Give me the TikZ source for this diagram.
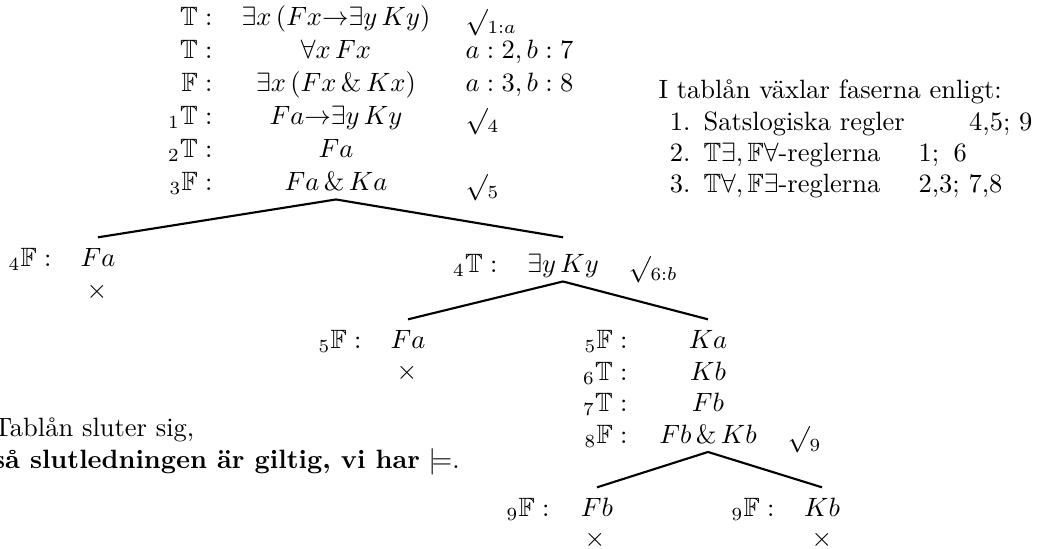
\documentclass[tikz,border=0pt]{standalone}
\usepackage{amssymb}
\usetikzlibrary{positioning}
\newcommand{\chk}[1]{\raisebox{\dimexpr6.4pt-\height\relax}{$\surd$}\raisebox{-3pt}{$\scriptstyle #1$}}

\begin{document}
\begin{tikzpicture}[x=.3775pt,y=-.3775pt,
 fml/.style={anchor=base,inner xsep=0pt,inner ysep=1.5pt,text height=9.5pt,text depth=1.5pt},
 lab/.style={anchor=base east,inner sep=0pt},
 jst/.style={anchor=base west,inner sep=0pt},
 cls/.style={anchor=base,inner sep=0pt},
 txt/.style={anchor=base west,inner sep=0pt},
 num/.style={anchor=base east,inner sep=0pt},
 br/.style={line width=.8pt}]
\useasboundingbox (0,0) rectangle (1046,549);

\node[fml] (t1) at (336,26) {$\exists x\,(Fx{\rightarrow}\exists y\,Ky)$};
\node[fml] (t2) at (336,59) {$\forall x\,Fx$};
\node[fml] (t3) at (336,92) {$\exists x\,(Fx\,\&\,Kx)$};
\node[fml] (t4) at (336,125) {$Fa{\rightarrow}\exists y\,Ky$};
\node[fml] (t5) at (336,158) {$Fa$};
\node[fml] (t6) at (336,191) {$Fa\,\&\,Ka$};
\node[lab] (t1s) at (213,26) {$\mathbb{T}:$};
\node[lab] (t2s) at (213,59) {$\mathbb{T}:$};
\node[lab] (t3s) at (213,92) {$\mathbb{F}:$};
\node[lab] (t4s) at (213,125) {${}_1\mathbb{T}:$};
\node[lab] (t5s) at (213,158) {${}_2\mathbb{T}:$};
\node[lab] (t6s) at (213,191) {${}_3\mathbb{F}:$};
\node[jst] (t1j) at (465,26) {\chk{1:a}};
\node[jst] (t2j) at (465,59) {$a:2, b:7$};
\node[jst] (t3j) at (465,92) {$a:3, b:8$};
\node[jst] (t4j) at (465,125) {\chk{4}};
\node[jst] (t6j) at (465,191) {\chk{5}};

\node[lab] (a1s) at (52,267) {${}_4\mathbb{F}:$};
\node[fml] (a1) at (98,267) {$Fa$};
\node[cls] (a1x) at (97,299) {$\times$};

\node[lab] (b1s) at (498,273) {${}_4\mathbb{T}:$};
\node[fml] (b1) at (563,273) {$\exists y\,Ky$};
\node[jst] (b1j) at (628,273) {\chk{6:b}};

\node[lab] (c1s) at (362,349) {${}_5\mathbb{F}:$};
\node[fml] (c1) at (408,349) {$Fa$};
\node[cls] (c1x) at (407,380) {$\times$};

\node[lab] (d1s) at (628,349) {${}_5\mathbb{F}:$};
\node[lab] (d2s) at (628,380.5) {${}_6\mathbb{T}:$};
\node[lab] (d3s) at (628,412) {${}_7\mathbb{T}:$};
\node[lab] (d4s) at (628,443.5) {${}_8\mathbb{F}:$};
\node[fml] (d1) at (708,349) {$Ka$};
\node[fml] (d2) at (708,380.5) {$Kb$};
\node[fml] (d3) at (708,412) {$Fb$};
\node[fml] (d4) at (708,443.5) {$Fb\,\&\,Kb$};
\node[jst] (d4j) at (787,443.5) {\chk{9}};

\node[lab] (e1s) at (550,517) {${}_9\mathbb{F}:$};
\node[fml] (e1) at (597,517) {$Fb$};
\node[cls] (e1x) at (595,547) {$\times$};
\node[lab] (f1s) at (775,517) {${}_9\mathbb{F}:$};
\node[fml] (f1) at (822,517) {$Kb$};
\node[cls] (f1x) at (822,547) {$\times$};

\draw[br] (t6.south)--(a1.north);
\draw[br] (t6.south)--(a1.north -| b1);
\draw[br] (b1.south)--(c1.north);
\draw[br] (b1.south)--(d1.north);
\draw[br] (d4.south)--(e1.north);
\draw[br] (d4.south)--(f1.north);

\node[txt] (ph) at (658,99) {I tablån växlar faserna enligt:};
\node[num] (p1n) at (691,131) {1.};
\node[num] (p2n) at (691,162) {2.};
\node[num] (p3n) at (691,193) {3.};
\node[txt] (p1) at (703,131) {Satslogiska regler};
\node[txt] (p2) at (703,162) {$\mathbb{T}\exists,\mathbb{F}\forall$-reglerna};
\node[txt] (p3) at (703,193) {$\mathbb{T}\forall,\mathbb{F}\exists$-reglerna};
\node[num] (p1r) at (1033,131) {4,5; 9};
\node[txt] (p2a) at (918,162) {1;};
\node[txt] (p2b) at (953,162) {6};
\node[txt] (p3r) at (918,193) {2,3; 7,8};

\node[txt] (end1) at (-7.5,437) {Tablån sluter sig,};
\node[txt] (end2) at (-7.5,469) {\textbf{så slutledningen är giltig, vi har} $\models$.};
\end{tikzpicture}
\end{document}
